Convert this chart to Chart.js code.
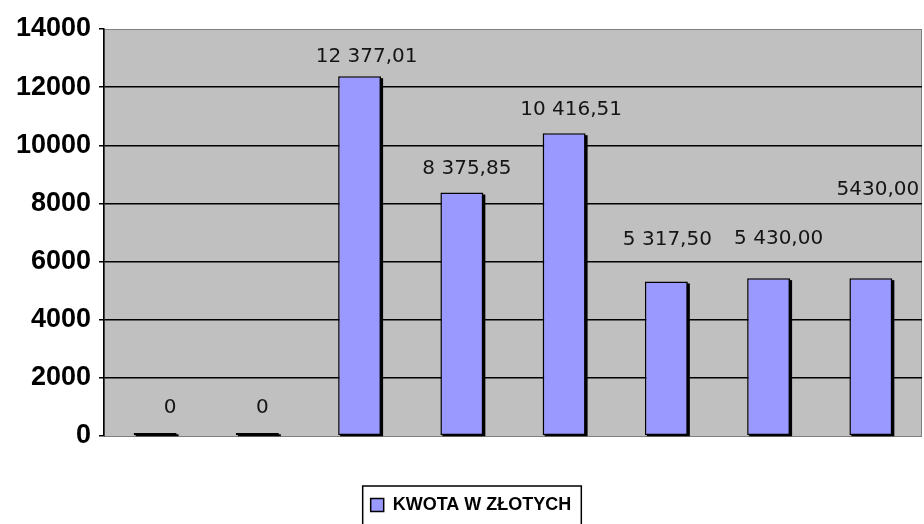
<!DOCTYPE html>
<html>
<head>
<meta charset="utf-8">
<script src="https://cdn.jsdelivr.net/npm/chart.js@4.4.1/dist/chart.umd.min.js"></script>
<style>
  html, body { margin: 0; padding: 0; background: #fff; }
  #wrap { width: 924px; height: 524px; position: relative; }
</style>
</head>
<body>
<div id="wrap"><canvas id="kwotaChart"></canvas></div>
<script>
// dane wykresu
const categories = ['1', '2', '3', '4', '5', '6', '7', '8'];
const kwoty = [0, 0, 12377.01, 8375.85, 10416.51, 5317.50, 5430.00, 5430.00];
const valueLabels = ['0', '0', '12 377,01', '8 375,85', '10 416,51', '5 317,50', '5 430,00', '5430,00'];
const yTicks = [0, 2000, 4000, 6000, 8000, 10000, 12000, 14000];
const seriesName = 'KWOTA W ZŁOTYCH';

// tło obszaru wykresu (szare jak w Excelu)
const plotBg = {
    id: 'plotBg',
    beforeDraw(chart) {
        const { ctx, chartArea: a } = chart;
        ctx.save();
        ctx.fillStyle = '#c0c0c0';
        ctx.fillRect(a.left, a.top, a.right - a.left, a.bottom - a.top);
        ctx.strokeStyle = '#808080';
        ctx.lineWidth = 1;
        ctx.strokeRect(a.left + 0.5, a.top + 0.5, a.right - a.left - 1, a.bottom - a.top);
        ctx.restore();
    }
};

// cień słupków - rysowany ręcznie pod słupkami
const barShadow = {
    id: 'barShadow',
    beforeDatasetsDraw(chart) {
        const ctx = chart.ctx;
        const meta = chart.getDatasetMeta(0);
        ctx.save();
        ctx.fillStyle = '#000';
        meta.data.forEach(bar => {
            const top = Math.min(bar.y, bar.base - 3);
            ctx.fillRect(bar.x - bar.width / 2 + 2, top + 2, bar.width, bar.base - top - 1);
        });
        ctx.restore();
    }
};

// etykiety wartości nad słupkami
const valueLabelPlugin = {
    id: 'valueLabelPlugin',
    afterDatasetsDraw(chart, args, opts) {
        const ctx = chart.ctx;
        const meta = chart.getDatasetMeta(0);
        ctx.save();
        ctx.font = '20px "DejaVu Sans"';
        ctx.fillStyle = '#151515';
        ctx.textAlign = 'center';
        ctx.textBaseline = 'middle';
        meta.data.forEach((bar, i) => {
            const off = opts.offsets[i] || [0, 20];
            ctx.fillText(valueLabels[i], bar.x + off[0], bar.y - off[1]);
        });
        ctx.restore();
    }
};

// przesunięcie legendy w prawo i ramka wokół niej
const legendFrame = {
    id: 'legendFrame',
    afterLayout(chart) {
        const lg = chart.legend;
        if (!lg) return;
        const dx = 10;
        lg.left += dx;
        lg.right += dx;
        (lg.legendHitBoxes || []).forEach(b => { b.left += dx; });
    },
    afterDraw(chart) {
        const boxes = chart.legend && chart.legend.legendHitBoxes;
        if (!boxes || !boxes.length) return;
        const b = boxes[0];
        const ctx = chart.ctx;
        ctx.save();
        ctx.strokeStyle = '#000';
        ctx.lineWidth = 1.5;
        ctx.strokeRect(b.left - 8, b.top - 10, b.width + 18, b.height + 22);
        ctx.restore();
    }
};

new Chart(document.getElementById('kwotaChart'), {
    type: 'bar',
    data: {
        labels: categories,
        datasets: [{
            label: seriesName,
            data: kwoty,
            backgroundColor: '#9999ff',
            borderColor: '#000',
            borderWidth: 1.5,
            borderSkipped: false,
            minBarLength: 3,
            categoryPercentage: 1,
            barPercentage: 0.42
        }]
    },
    options: {
        responsive: true,
        maintainAspectRatio: false,
        animation: false,
        layout: { padding: { top: 29, right: 2, left: 0, bottom: 0 } },
        scales: {
            x: {
                ticks: { display: false },
                grid: { display: false, drawTicks: false },
                border: { display: false },
                afterFit: s => { s.height = 50; }
            },
            y: {
                min: 0,
                max: 14000,
                afterBuildTicks: s => { s.ticks = yTicks.map(v => ({ value: v })); },
                afterFit: s => { s.width = 104; },
                ticks: {
                    color: '#000',
                    padding: 8,
                    font: { family: '"Liberation Sans"', size: 27, weight: 'bold' },
                    callback: v => String(v)
                },
                grid: {
                    color: c => (c.tick && (c.tick.value === 0 || c.tick.value === 14000)) ? 'rgba(0,0,0,0)' : '#000',
                    lineWidth: 1.5,
                    tickColor: '#000',
                    tickLength: 5
                },
                border: { display: true, color: '#000', width: 1.5 }
            }
        },
        plugins: {
            legend: {
                position: 'bottom',
                labels: {
                    color: '#000',
                    boxWidth: 13,
                    boxHeight: 13,
                    padding: 10,
                    font: { family: '"Liberation Sans"', size: 18, weight: 'bold' }
                }
            },
            tooltip: { enabled: false },
            valueLabelPlugin: {
                offsets: [[15, 25], [5, 25], [7, 19], [5, 24], [7, 23], [1, 42], [10, 39], [7, 88]]
            }
        }
    },
    plugins: [plotBg, barShadow, valueLabelPlugin, legendFrame]
});
</script>
</body>
</html>
